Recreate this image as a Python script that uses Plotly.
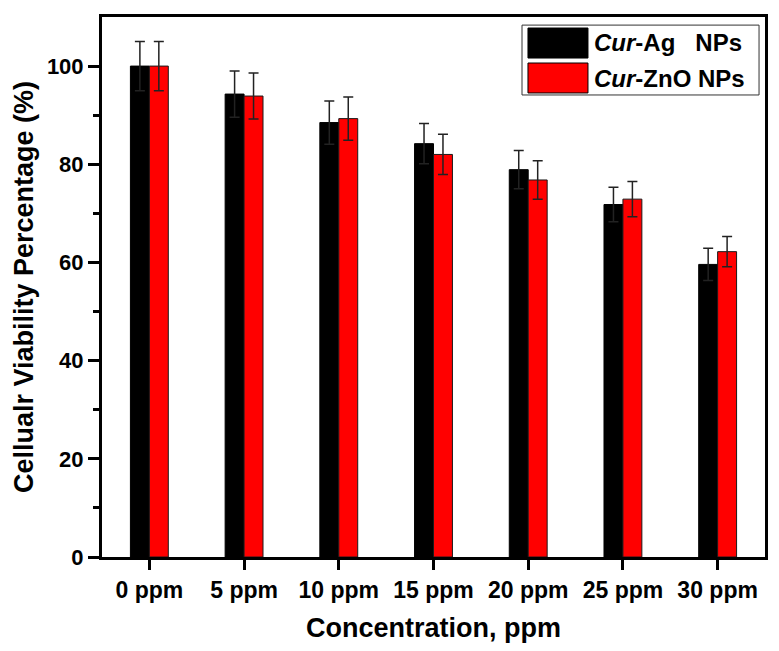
import plotly.graph_objects as go

categories = ["0 ppm", "5 ppm", "10 ppm", "15 ppm", "20 ppm", "25 ppm", "30 ppm"]
ag_values = [100.0, 94.3, 88.5, 84.2, 78.9, 71.8, 59.6]
ag_errors = [5.0, 4.7, 4.4, 4.1, 3.9, 3.5, 3.3]
zno_values = [100.0, 93.9, 89.3, 82.0, 76.8, 72.9, 62.2]
zno_errors = [5.0, 4.7, 4.4, 4.1, 3.9, 3.6, 3.1]
series_names = ["<i>Cur</i>-Ag&nbsp;&nbsp;&nbsp;NPs", "<i>Cur</i>-ZnO NPs"]

FONT = "Liberation Sans, Arial, sans-serif"

fig = go.Figure()
fig.add_trace(go.Bar(
    x=categories, y=ag_values, name="Cur-Ag NPs",
    marker=dict(color="#000000", line=dict(color="#000000", width=1)),
    error_y=dict(type="data", array=ag_errors, visible=True, color="#222222", thickness=1.5, width=5),
))
fig.add_trace(go.Bar(
    x=categories, y=zno_values, name="Cur-ZnO NPs",
    marker=dict(color="#ff0000", line=dict(color="#1a1a1a", width=1)),
    error_y=dict(type="data", array=zno_errors, visible=True, color="#222222", thickness=1.5, width=5),
))

# custom legend (paper coordinates)
fig.add_shape(type="rect", xref="paper", yref="paper", x0=0.6335, x1=0.991, y0=0.8556, y1=0.985,
              line=dict(color="#333333", width=1), fillcolor="white", layer="above")
fig.add_shape(type="rect", xref="paper", yref="paper", x0=0.6425, x1=0.733, y0=0.924, y1=0.9796,
              line=dict(color="#000000", width=1), fillcolor="#000000", layer="above")
fig.add_shape(type="rect", xref="paper", yref="paper", x0=0.6425, x1=0.733, y0=0.8593, y1=0.9148,
              line=dict(color="#000000", width=1), fillcolor="#ff0000", layer="above")
for name, yy in zip(series_names, [0.952, 0.887]):
    fig.add_annotation(xref="paper", yref="paper", x=0.739, y=yy, text=name, showarrow=False,
                       xanchor="left", yanchor="middle",
                       font=dict(family=FONT, size=24, color="#000000", weight="bold"))

fig.update_layout(
    width=763, height=635,
    margin=dict(l=94, r=6, t=9, b=86, autoexpand=False),
    paper_bgcolor="white", plot_bgcolor="white",
    barmode="group", bargap=0.6, bargroupgap=0,
    showlegend=False,
    font=dict(family=FONT, color="#000000"),
)
fig.update_xaxes(
    type="category", range=[-0.5, 6.5], automargin=False,
    showline=True, linecolor="#000000", linewidth=3, mirror=True,
    ticks="outside", ticklen=10, tickwidth=3, tickcolor="#000000",
    tickfont=dict(family=FONT, size=23, color="#000000", weight="bold"),
    showgrid=False, zeroline=False,
    title=dict(text="Concentration, ppm", standoff=18,
               font=dict(family=FONT, size=27, color="#000000", weight="bold")),
)
fig.update_yaxes(
    range=[0, 110], tickvals=[0, 20, 40, 60, 80, 100], automargin=False,
    showline=True, linecolor="#000000", linewidth=3, mirror=True,
    ticks="outside", ticklen=11, tickwidth=3, tickcolor="#000000",
    minor=dict(tickvals=[10, 30, 50, 70, 90], ticks="outside", ticklen=6, tickwidth=3, tickcolor="#000000"),
    tickfont=dict(family=FONT, size=22, color="#000000", weight="bold"),
    showgrid=False, zeroline=False,
    title=dict(text="Cellualr Viability Percentage (%)", standoff=6,
               font=dict(family=FONT, size=27, color="#000000", weight="bold")),
)

fig.write_html("out.html")
